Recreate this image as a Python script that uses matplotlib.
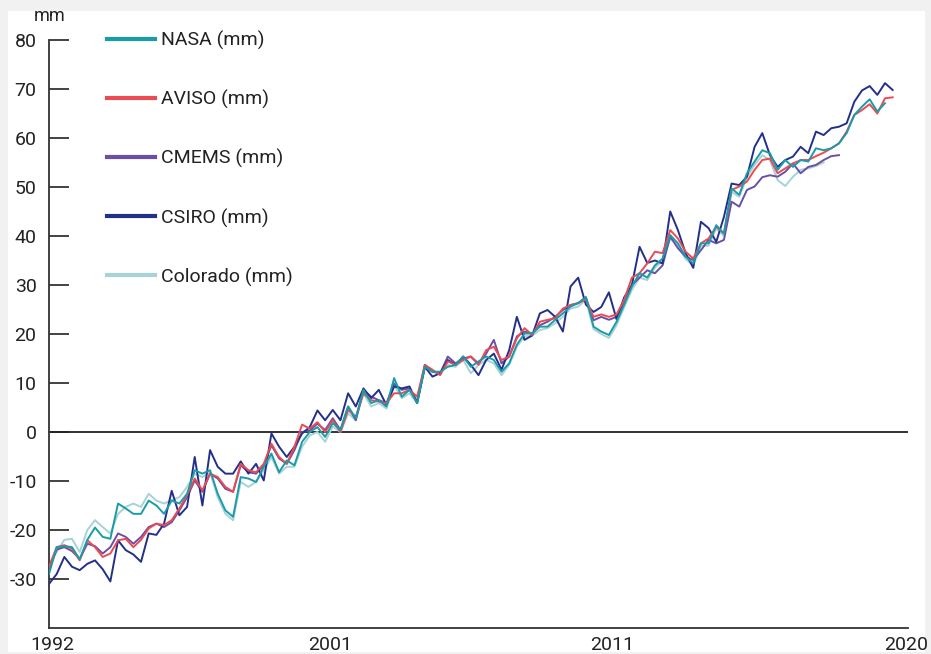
import numpy as np
import matplotlib
matplotlib.use('Agg')
import matplotlib.pyplot as plt
from matplotlib.patches import Rectangle

plt.rcParams['font.family'] = ['Roboto', 'DejaVu Sans']

# quarterly values (mm), first point = start of 1992
start_year = 1992
step = 0.25

nasa = [-29, -23.5, -23.3, -23.5, -26, -22, -19.5, -21.4, -21.8, -14.6,
        -15.6, -16.7, -16.7, -14, -15, -16.7, -14, -14.6, -12.6, -7.8,
        -8.5, -7.8, -12.6, -16, -17.3, -9.2, -9.5, -10.2, -7.1, -4.4,
        -8.2, -5.8, -6.8, -2, 0, 1, -1, 1.8, 0.4, 5.2,
        2.8, 8.6, 5.9, 6.5, 5.2, 11, 7.2, 8.6, 5.9, 13.3,
        12.3, 12.3, 13.3, 13.7, 15.4, 13.3, 14.4, 15.4, 14.7, 12.3,
        14, 17.8, 20.1, 20.1, 21.5, 21.5, 22.9, 24.2, 25.6, 26.3,
        27.5, 21.5, 20.5, 19.8, 22.5, 26, 29.7, 32.4, 31.5, 34,
        35.4, 40.2, 38.5, 35.8, 34.4, 38.5, 38.5, 42.2, 40.5, 49.7,
        48.4, 52.8, 55.2, 57.5, 56.9, 53.5, 55.5, 54.1, 55.5, 55.2,
        57.9, 57.5, 57.9, 58.9, 61, 64.7, 66.4, 67.9, 65.4, 67.1]

aviso = [-27.5, -23.5, -23.1, -23.8, -26.2, -22.1, -23.5, -25.5, -24.8, -22.1,
         -21.8, -23.5, -22, -19.7, -18.7, -19, -18, -15.6, -12.9, -9.5,
         -11.9, -8.5, -9.2, -11.2, -12.2, -6.5, -7.8, -8.2, -6.5, -2.4,
         -5.1, -6.5, -3, 1.5, 0.7, 2, 0, 2.4, 0, 4.5,
         3.1, 7.9, 6.5, 6.2, 5.9, 7.9, 7.9, 8.6, 7.2, 13.7,
         12.7, 11.6, 14.4, 13.7, 14.7, 15.4, 13.7, 16.7, 17.4, 14.7,
         15.4, 19.1, 21.2, 19.8, 22.5, 22.9, 23.2, 25.2, 25.9, 26.3,
         27, 23.5, 24, 23.5, 24, 27, 31.5, 32.4, 34.4, 36.8,
         36.5, 41.2, 39.5, 36.8, 35.4, 38.5, 39.5, 41.9, 40.5, 49.4,
         50.1, 51.1, 53.5, 55.5, 55.8, 52.8, 53.8, 54.8, 55.5, 55.5,
         56.3, 57, 57.9, 58.9, 61.3, 64.7, 65.7, 66.9, 65, 68.1, 68.3]

cmems = [-28, -24, -23.5, -24.3, -25.9, -22.8, -23.3, -24.8, -23.5, -20.7,
         -21.4, -22.8, -21.4, -19.4, -18.7, -19.4, -18.4, -16, -13.3, -9.9,
         -12.2, -8.5, -9.5, -11.6, -12.2, -6.8, -8.2, -8.5, -6.8, -2.7,
         -5.4, -6.5, -3.7, 0, 0.3, 1.7, 0.4, 2.8, 0.4, 5.2,
         2.4, 8.6, 7.2, 6.5, 5.9, 9.9, 8.6, 8.9, 6.2, 13.7,
         12.3, 12, 15.4, 14, 15, 15.4, 14, 16, 18.8, 14,
         15.4, 19.5, 20.5, 20.1, 21.8, 22.5, 23.5, 24.9, 25.9, 26.3,
         27.5, 22.8, 23.5, 22.9, 23.5, 26.5, 30, 31.5, 33, 32.4,
         34, 39.9, 37.5, 35.8, 35.1, 37.1, 39.2, 38.5, 39.2, 47,
         46, 49.4, 50.1, 52, 52.4, 52.1, 53.1, 54.8, 52.8, 54.1,
         54.5, 55.5, 56.3, 56.5]

csiro = [-31, -29, -25.5, -27.5, -28.2, -26.9, -26.2, -28, -30.5, -22.1,
         -24.1, -25, -26.5, -20.7, -21, -18.7, -12, -17, -15.3, -5.1,
         -15, -3.7, -7.1, -8.5, -8.5, -6, -8.5, -6.5, -9.9, -0.3,
         -3, -5.1, -3, -0.3, 1, 4.4, 2.4, 4.5, 2.4, 7.9,
         5.2, 8.9, 6.9, 8.6, 5.5, 9.3, 8.9, 9.3, 5.9, 13.3,
         11.3, 12, 14.7, 13.7, 15.4, 13.7, 11.6, 14.7, 16, 12.7,
         16.7, 23.5, 18.8, 19.7, 24.2, 24.9, 23.5, 20.5, 29.7, 31.5,
         26, 24.5, 25.5, 28.5, 23, 27.5, 30, 37.8, 34.5, 35,
         34.4, 45, 41.2, 36.5, 33.5, 42.9, 41.6, 38.8, 43.9, 50.7,
         50.4, 52.1, 58.2, 61, 56.5, 54.1, 55.5, 56.2, 58.2, 56.9,
         61.3, 60.6, 62, 62.3, 63, 67.4, 69.7, 70.6, 68.8, 71.2, 69.8]

colorado = [-27, -24.5, -22, -21.8, -24.5, -20, -18, -19.4, -20.7, -16.7,
            -15.3, -14.6, -15.3, -12.6, -14, -14.6, -13.9, -13.3, -11.2, -8.5,
            -9.2, -8.2, -13.3, -16.7, -18, -10.2, -11.2, -10.2, -7.8, -5.1,
            -8.5, -7.1, -7.1, -3, -0.7, 0, -2, 1.1, 0, 3.8,
            2.4, 7.9, 5.2, 5.9, 4.8, 9.5, 6.9, 7.9, 5.9, 13,
            12.3, 12, 13.7, 13.3, 14.7, 12, 13.7, 14.7, 14, 11.6,
            13.7, 17.4, 19.5, 19.7, 20.8, 21.2, 22.2, 23.5, 25.2, 25.6,
            27, 21, 20, 19.2, 21.8, 25.5, 29, 31.5, 31, 33.5,
            35, 39.5, 38, 35.3, 34, 38, 38, 41.5, 40, 49,
            48, 52, 54.5, 56.5, 55.5, 51.4, 50.2, 52.1, 53.5, 53.8,
            54.3, 55]

labels = ['NASA (mm)', 'AVISO (mm)', 'CMEMS (mm)', 'CSIRO (mm)', 'Colorado (mm)']
x_tick_labels = ['1992', '2001', '2011', '2020']
y_ticks = [-30, -20, -10, 0, 10, 20, 30, 40, 50, 60, 70, 80]

colors = {
    'NASA (mm)': '#1a9ca8',
    'AVISO (mm)': '#ec4a52',
    'CMEMS (mm)': '#6b4fa6',
    'CSIRO (mm)': '#23308a',
    'Colorado (mm)': '#a6d2d8',
}
data = {
    'NASA (mm)': nasa,
    'AVISO (mm)': aviso,
    'CMEMS (mm)': cmems,
    'CSIRO (mm)': csiro,
    'Colorado (mm)': colorado,
}
# draw order (bottom -> top)
zorders = {'Colorado (mm)': 2, 'CMEMS (mm)': 3, 'CSIRO (mm)': 4, 'AVISO (mm)': 5, 'NASA (mm)': 6}

W, H = 931, 654
fig = plt.figure(figsize=(W / 100, H / 100), dpi=100, facecolor='#f1f1f1')
# white card behind the chart
fig.patches.append(Rectangle((8 / W, 2 / H), 917 / W, 641 / H, transform=fig.transFigure,
                             facecolor='white', edgecolor='none', zorder=-10))

ax = fig.add_axes([49 / W, 26 / H, 859 / W, 588 / H])
ax.set_facecolor('none')
ax.set_zorder(1)

handles = []
for name in labels:
    vals = data[name]
    x = start_year + step * np.arange(len(vals))
    line, = ax.plot(x, vals, color=colors[name], lw=1.4, zorder=zorders[name], label=name)
    handles.append(line)

ax.axhline(0, color='#222222', lw=1.3, zorder=1)

ax.set_xlim(1992, 2020)
ax.set_ylim(-40, 80)
ax.set_yticks(y_ticks)
ax.set_yticklabels([str(v) for v in y_ticks])
ax.set_xticks([1992.1, 2001.15, 2010.35, 2019.95])
ax.set_xticklabels(x_tick_labels)

ax.tick_params(axis='y', direction='in', length=14.5, width=1.2, color='#222222',
               labelsize=14, labelcolor='#222222', pad=9)
ax.tick_params(axis='x', length=0, labelsize=14, labelcolor='#222222', pad=6)

for side in ['top', 'right']:
    ax.spines[side].set_visible(False)
ax.spines['left'].set_color('#333333')
ax.spines['left'].set_linewidth(1.3)
ax.spines['bottom'].set_color('#333333')
ax.spines['bottom'].set_linewidth(1.3)

fig.text(50 / W, 1 - 16 / H, 'mm', ha='center', va='center', fontsize=13, color='#222222')

leg = ax.legend(handles=handles, loc='upper left', bbox_to_anchor=(0.0675, 1.015),
                frameon=False, fontsize=14, handlelength=2.45, handletextpad=0.35,
                labelspacing=2.05, borderpad=0, borderaxespad=0)
for h in leg.legend_handles:
    h.set_linewidth(3)
for t in leg.get_texts():
    t.set_color('#222222')

fig.savefig('out.png', dpi=100, facecolor=fig.get_facecolor())
